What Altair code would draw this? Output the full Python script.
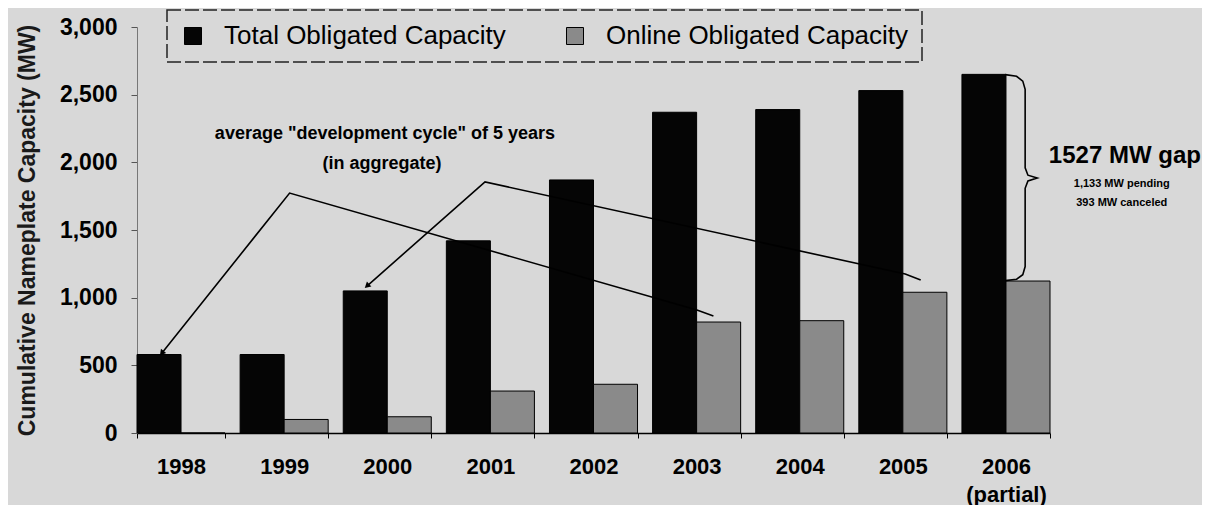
import altair as alt
import pandas as pd

# ---- data ----
years = ["1998", "1999", "2000", "2001", "2002", "2003", "2004", "2005", "2006"]
total_capacity = [580, 580, 1050, 1420, 1870, 2370, 2390, 2530, 2650]
online_capacity = [0, 100, 120, 310, 360, 820, 830, 1040, 1123]
series_names = ["Total Obligated Capacity", "Online Obligated Capacity"]
series_colors = ["#050505", "#8a8a8a"]

# annotation geometry in data units (u = year-slot position, MW)
arrow1_u = [0.24, 1.48, 5.43, 5.59]
arrow1_mw = [590, 1773, 909, 865]
arrow2_u = [2.23, 3.375, 7.45, 7.60]
arrow2_mw = [1086, 1855, 1175, 1131]
brace_u = [8.42, 8.53, 8.59, 8.613, 8.613, 8.64, 8.73, 8.64, 8.613, 8.613, 8.59, 8.53, 8.42]
brace_mw = [2648, 2636, 2600, 2540, 1960, 1905, 1884, 1863, 1808, 1230, 1170, 1136, 1126]
note_text = ['average "development cycle" of 5 years', "(in aggregate)",
             "1527 MW gap", "1,133 MW pending", "393 MW canceled"]
note_u = [2.405, 2.376, 9.58, 9.55, 9.55]
note_mw = [2209, 1988, 2047, 1838, 1698]
note_size = [18, 18, 24, 11, 11]

PAD_INNER = 0.146
FONT = "Liberation Sans"

rows = []
for i, y in enumerate(years):
    rows.append({"year": y, "series": series_names[0], "mw": total_capacity[i]})
    rows.append({"year": y, "series": series_names[1], "mw": online_capacity[i]})
bars_df = pd.DataFrame(rows)

line_rows = []
for name, us, ms in [("a1", arrow1_u, arrow1_mw), ("a2", arrow2_u, arrow2_mw), ("br", brace_u, brace_mw)]:
    for k, (u, m) in enumerate(zip(us, ms)):
        line_rows.append({"grp": name, "i": k, "u": u, "mw": m})
lines_df = pd.DataFrame(line_rows)

heads_df = pd.DataFrame({
    "u": [arrow1_u[0], arrow2_u[0]],
    "mw": [arrow1_mw[0], arrow2_mw[0]],
    "ang": [218.7, 228.6],
})

notes_df = pd.DataFrame({"u": note_u, "mw": note_mw, "text": note_text, "fs": note_size})

yscale = alt.Scale(domain=[0, 3000], nice=False)
yaxis = alt.Axis(
    title="Cumulative Nameplate Capacity (MW)",
    values=[0, 500, 1000, 1500, 2000, 2500, 3000],
    format=",d",
    grid=False,
    labelFont=FONT, labelFontSize=23, labelFontWeight="bold", labelColor="black",
    labelPadding=14, tickSize=6, tickColor="#555", domainColor="#777",
    titleFont=FONT, titleFontSize=23, titleFontWeight="bold", titleColor="#1a1a1a",
    titlePadding=20,
)
Y = alt.Y("mw:Q", scale=yscale, axis=yaxis)
uscale = alt.Scale(domain=[0, 9 - PAD_INNER], nice=False, zero=False)

bars = alt.Chart(bars_df).mark_bar(stroke="black", strokeWidth=1, opacity=1).encode(
    x=alt.X(
        "year:N",
        sort=years,
        scale=alt.Scale(paddingInner=PAD_INNER, paddingOuter=0),
        axis=alt.Axis(
            title=None, labelAngle=0, labelFont=FONT, labelFontSize=22,
            labelFontWeight="bold", labelColor="black", labelPadding=18,
            labelLineHeight=28,
            labelExpr="datum.value == '2006' ? ['2006', '(partial)'] : datum.label",
            tickBand="extent", tickSize=5, tickColor="black",
            domainColor="black", domainWidth=1.5,
        ),
    ),
    xOffset=alt.XOffset("series:N", sort=series_names),
    y=Y,
    color=alt.Color(
        "series:N",
        scale=alt.Scale(domain=series_names, range=series_colors),
        legend=alt.Legend(
            title=None, orient="none", legendX=30, legendY=-17,
            direction="horizontal", symbolType="square", symbolSize=289,
            symbolStrokeColor="black", symbolStrokeWidth=1, symbolOpacity=1,
            labelFont=FONT, labelFontSize=26, labelColor="black", labelLimit=600,
            labelOffset=18, columnPadding=56, padding=13, strokeColor="#222",
        ),
    ),
)

lines = alt.Chart(lines_df).mark_line(color="black", strokeWidth=1.6).encode(
    x=alt.X("u:Q", scale=uscale, axis=None),
    y=Y,
    detail="grp:N",
    order="i:Q",
)

heads = alt.Chart(heads_df).mark_point(shape="triangle-up", filled=True, color="black", size=45, opacity=1).encode(
    x=alt.X("u:Q", scale=uscale, axis=None),
    y=Y,
    angle=alt.Angle("ang:Q", scale=None),
)

notes = alt.Chart(notes_df).mark_text(font=FONT, fontWeight="bold", color="black", align="center", baseline="middle").encode(
    x=alt.X("u:Q", scale=uscale, axis=None),
    y=Y,
    text="text:N",
    size=alt.Size("fs:Q", scale=None),
)

chart = alt.layer(bars, lines, heads, notes).resolve_scale(x="independent").properties(
    width=913, height=406,
    padding={"left": 129, "top": 19, "right": 152, "bottom": 72},
    autosize=alt.AutoSizeParams(type="none"),
    background="#d8d8d8",
).configure_view(stroke=None).configure_legend(strokeDash=[14, 4], strokeWidth=1.5)

chart.save("out.html", embed_options={"renderer": "svg", "actions": False})
